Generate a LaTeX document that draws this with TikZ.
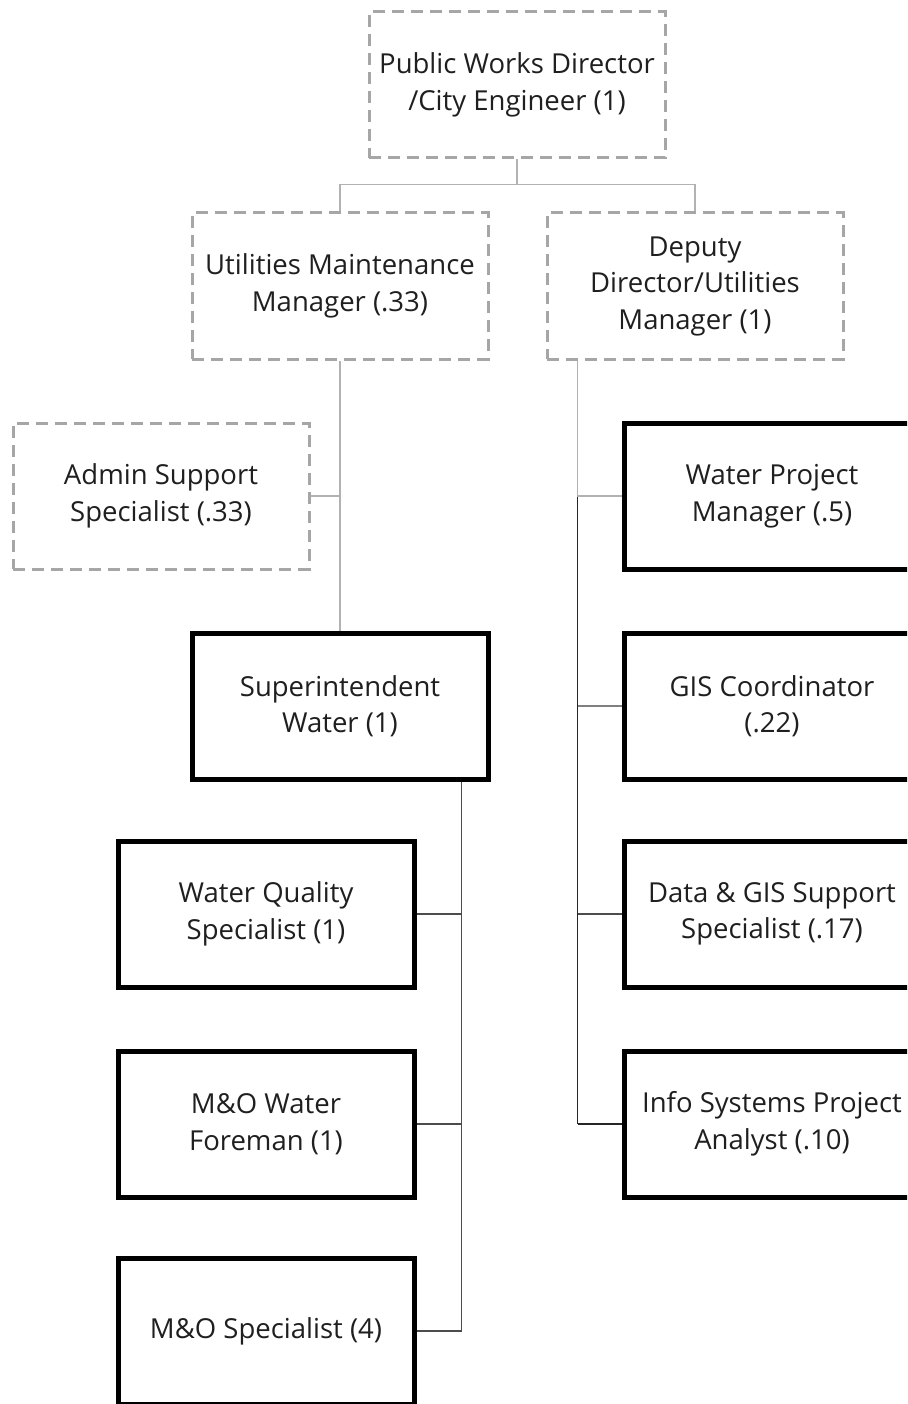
\documentclass[tikz,border=0pt]{standalone}
\usepackage{fontspec}
\setmainfont{Open Sans}
\begin{document}
\begin{tikzpicture}[x=1pt,y=-1pt,
  box/.style={minimum width=296pt,minimum height=146pt,align=center,inner sep=0pt,
    text=black!88,font=\fontsize{27.5}{36.5}\selectfont},
  dashbox/.style={box,draw=black!35,line width=3pt,dash pattern=on 12pt off 7pt},
  solidbox/.style={box,draw=black,line width=5pt},
  connlight/.style={draw=black!30,line width=1.6pt},
  connmid/.style={draw=black!50,line width=1.8pt},
  conndark/.style={draw=black!70,line width=1.8pt},
  conndeep/.style={draw=black!85,line width=1.8pt}]
\useasboundingbox (0,0) rectangle (907,1404);
\clip (0,0) rectangle (907,1404);
\fill[white] (0,0) rectangle (907,1404);
% nodes
\node[dashbox] (top) at (517,85) {Public Works Director\\/City Engineer (1)};
\node[dashbox] (umm) at (340,286) {Utilities Maintenance\\Manager (.33)};
\node[dashbox] (dep) at (695,286) {Deputy\\Director/Utilities\\Manager (1)};
\node[dashbox] (adm) at (161,496) {Admin Support\\Specialist (.33)};
\node[solidbox] (sup) at (340,706) {Superintendent\\Water (1)};
\node[solidbox] (wqs) at (266,914) {Water Quality\\Specialist (1)};
\node[solidbox] (mow) at (266,1124) {M\&O Water\\Foreman (1)};
\node[solidbox] (mos) at (266,1331) {M\&O Specialist (4)};
\node[solidbox] (wpm) at (772,496) {Water Project\\Manager (.5)};
\node[solidbox] (gis) at (772,706) {GIS Coordinator\\(.22)};
\node[solidbox] (dgs) at (772,914) {Data \& GIS Support\\Specialist (.17)};
\node[solidbox] (isp) at (772,1124) {Info Systems Project\\Analyst (.10)};
% junction coordinates
\coordinate (tj) at ([yshift=-25pt]top.south);
\coordinate (dj) at ([xshift=32pt]dep.south west);
\coordinate (sj) at ([xshift=-29pt]sup.south east);
% connectors
\draw[connlight] (top.south) -- (tj) -| (umm.north);
\draw[connlight] (tj) -| (dep.north);
\draw[connlight] (umm.south) -- (sup.north);
\draw[connlight] (umm.south |- adm.east) -- (adm.east);
\draw[conndeep] (dj |- isp.west) -- (isp.west);
\draw[conndeep] (dj |- wpm.west) -- (dj |- isp.west);
\draw[conndark] (dj |- dgs.west) -- (dgs.west);
\draw[connmid] (dj |- gis.west) -- (gis.west);
\draw[connlight] (dj) |- (wpm.west);
\draw[conndark] (sj) |- (mos.east);
\draw[conndark] (sj |- wqs.east) -- (wqs.east);
\draw[conndark] (sj |- mow.east) -- (mow.east);
\end{tikzpicture}
\end{document}
